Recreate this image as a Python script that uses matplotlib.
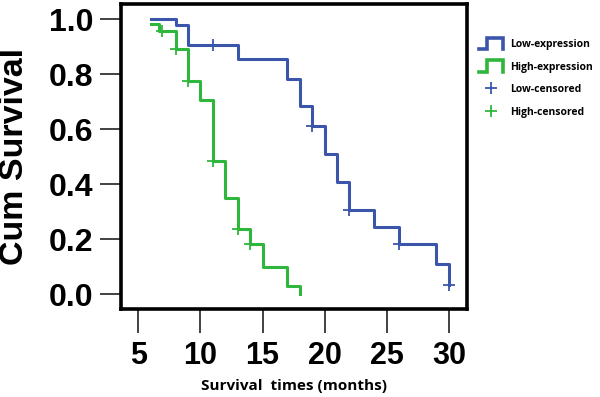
import matplotlib
matplotlib.use("Agg")
import matplotlib.pyplot as plt
from matplotlib.lines import Line2D
from matplotlib.legend_handler import HandlerBase

# Kaplan-Meier data
low_times = [6, 8, 9, 13, 17, 18, 19, 20, 21, 22, 24, 26, 29, 30]
low_surv = [1.0, 0.978, 0.905, 0.855, 0.782, 0.683, 0.610, 0.508, 0.407, 0.304, 0.243, 0.182, 0.109, 0.034]
low_cens_t = [11, 19, 22, 26, 30]
low_cens_s = [0.905, 0.610, 0.304, 0.182, 0.034]

high_times = [6, 6.7, 8, 9, 10, 11, 12, 13, 14, 15, 17, 18]
high_surv = [0.981, 0.957, 0.893, 0.774, 0.707, 0.484, 0.349, 0.236, 0.182, 0.097, 0.028, 0.0]
high_cens_t = [6.9, 8, 9, 11, 13, 14]
high_cens_s = [0.957, 0.893, 0.774, 0.484, 0.236, 0.182]

xticks = [5, 10, 15, 20, 25, 30]
yticks = [0.0, 0.2, 0.4, 0.6, 0.8, 1.0]

blue = '#3b55ab'
green = '#2fb63c'


class StepHandler(HandlerBase):
    # draws the little step icon used in the legend
    def create_artists(self, legend, orig_handle, xdescent, ydescent,
                       width, height, fontsize, trans):
        x0, y0 = -xdescent, -ydescent - 0.3 * height
        w, h = width, height * 1.6
        xs = [x0, x0 + 0.35 * w, x0 + 0.35 * w, x0 + w, x0 + w]
        ys = [y0, y0, y0 + h, y0 + h, y0]
        ln = Line2D(xs, ys, color=orig_handle.get_color(), lw=2.6,
                    transform=trans, solid_joinstyle='miter')
        return [ln]


fig = plt.figure(figsize=(6, 3.97), dpi=100)
ax = fig.add_axes([0.201, 0.222, 0.577, 0.768])

l1, = ax.step(low_times, low_surv, where='post', color=blue, lw=2.2)
l2, = ax.step(high_times, high_surv, where='post', color=green, lw=2.2)
c1, = ax.plot(low_cens_t, low_cens_s, ls='none', marker='+', ms=8, mew=1.3, color=blue)
c2, = ax.plot(high_cens_t, high_cens_s, ls='none', marker='+', ms=8, mew=1.3, color=green)

ax.set_xlim(3.58, 31.44)
ax.set_ylim(-0.054, 1.055)
ax.set_xticks(xticks)
ax.set_yticks(yticks)
ax.set_xticklabels([str(v) for v in xticks], fontsize=22, fontweight='bold',
                   family='Liberation Sans')
ax.set_yticklabels(['%.1f' % v for v in yticks], fontsize=23, fontweight='bold',
                   family='Liberation Sans')
ax.tick_params(axis='y', length=15, width=1.3, pad=4.5, color='#333333')
ax.tick_params(axis='x', length=17, width=1.3, pad=6, color='#333333')
for s in ax.spines.values():
    s.set_linewidth(2.6)
    s.set_color('black')

fig.text(14.5 / 600, 1 - 156.5 / 397, 'Cum Survival', rotation=90,
         ha='center', va='center', fontsize=24.5, fontweight='bold',
         family='Liberation Sans')
ax.set_xlabel('Survival  times (months)', fontsize=11, fontweight='bold',
              family='Open Sans', labelpad=6)

fig.legend([l1, l2, c1, c2],
           ['Low-expression', 'High-expression', 'Low-censored', 'High-censored'],
           handler_map={l1: StepHandler(), l2: StepHandler()},
           loc='upper left', bbox_to_anchor=(0.782, 0.925), frameon=False,
           prop={'family': 'Open Sans', 'weight': 'bold', 'size': 7.5},
           handlelength=2.3, handletextpad=0.75, labelspacing=1.1)

fig.savefig('out.png', dpi=100)
